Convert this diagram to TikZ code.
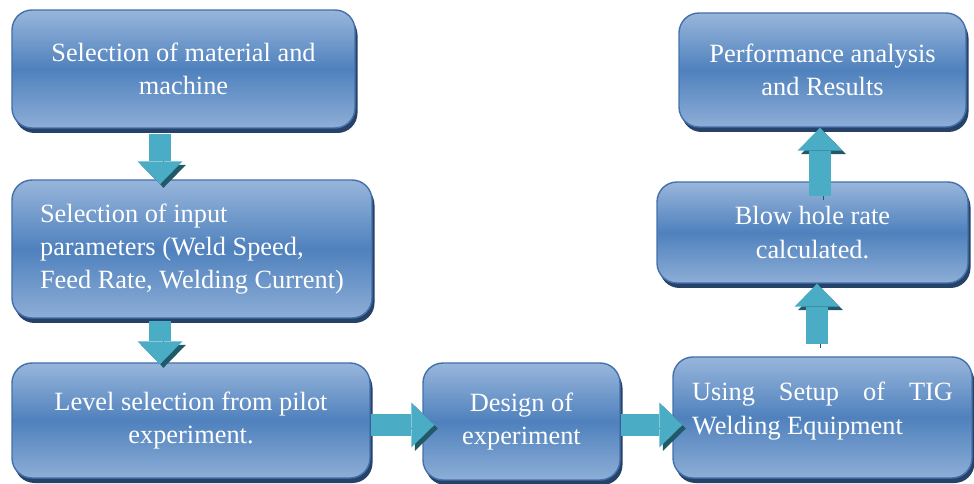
\documentclass[tikz,border=0pt]{standalone}
\usepackage{fontspec}
\setmainfont{Liberation Serif}
\usetikzlibrary{arrows.meta,shadows}

\definecolor{boxtop}{RGB}{152,182,219}
\definecolor{boxmid}{RGB}{79,129,189}
\definecolor{boxline}{RGB}{68,112,172}
\definecolor{boxshadow}{RGB}{38,66,104}
\definecolor{flowteal}{RGB}{75,172,198}
\definecolor{flowdark}{RGB}{33,89,104}

\tikzset{
	stage/.style={draw=boxline, line width=0.8pt, rounded corners=0.4cm,
		top color=boxtop, bottom color=boxtop!85!boxmid, middle color=boxmid,
		text=white, font=\fontsize{15}{19}\selectfont, align=center, inner sep=0pt,
		general shadow={fill=boxshadow, shadow xshift=0.05cm, shadow yshift=-0.1cm}},
	flow/.style={line width=0.44cm, draw=flowteal,
		-{Triangle[width=0.9cm,length=0.46cm,line width=0pt]},
		preaction={draw=flowdark, transform canvas={shift={(0.07,-0.07)}}}}
}

\begin{document}
\begin{tikzpicture}[]
\useasboundingbox (0,0) rectangle (19.48,-9.68);

\node[stage, minimum width=6.86cm, minimum height=2.36cm] (sel) at (3.67,-1.38)
	{Selection of material and\\machine};
\node[stage, minimum width=7.2cm, minimum height=2.76cm, align=left] (inp) at (3.84,-4.98)
	{Selection of input\\parameters (Weld Speed,\\Feed Rate, Welding Current)};
\node[stage, minimum width=7.16cm, minimum height=2.3cm] (lvl) at (3.82,-8.41)
	{Level selection from pilot\\experiment.};
\node[stage, minimum width=3.94cm, minimum height=2.34cm] (doe) at (10.43,-8.43)
	{Design of\\experiment};
\node[stage, minimum width=5.98cm, minimum height=2.42cm, align=left] (tig) at (16.45,-8.35)
	{\hbox to 5.22cm{Using\hfill Setup\hfill of\hfill TIG}\\Welding Equipment\\[-0.3cm]\mbox{}};
\node[stage, minimum width=6.22cm, minimum height=2.02cm] (blow) at (16.25,-4.65)
	{Blow hole rate\\calculated.};
\node[stage, minimum width=5.74cm, minimum height=2.28cm] (res) at (16.45,-1.4)
	{Performance analysis\\and Results};

\draw[flow, shorten <=0.1cm, shorten >=-0.1cm] (sel.south -| 3.2,0) -- (inp.north -| 3.2,0);
\draw[flow, shorten <=0.04cm, shorten >=-0.04cm] (inp.south -| 3.2,0) -- (lvl.north -| 3.2,0);
\draw[flow, shorten >=-0.24cm] (lvl.east |- 0,-8.5) -- (doe.west |- 0,-8.5);
\draw[flow, shorten >=-0.2cm] (doe.east |- 0,-8.5) -- (tig.west |- 0,-8.5);
\draw[flow, shorten <=0.24cm] (tig.north -| 16.34,0) -- (blow.south -| 16.34,0);
\draw[flow, shorten <=-0.3cm] (blow.north -| 16.4,0) -- (res.south -| 16.4,0);

\end{tikzpicture}
\end{document}
